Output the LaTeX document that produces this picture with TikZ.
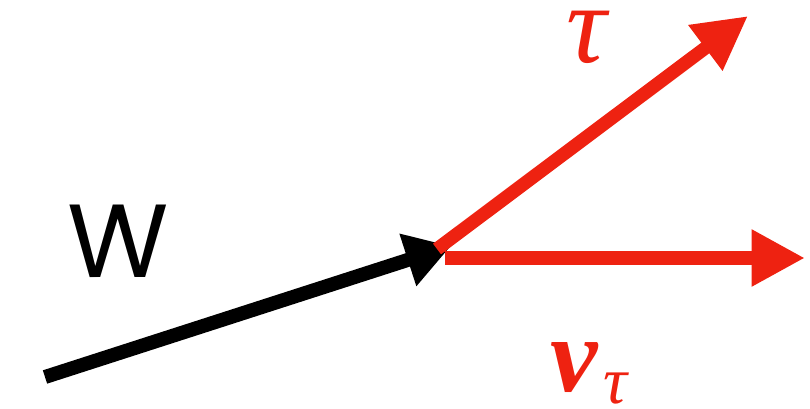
\documentclass[tikz,border=0pt]{standalone}
\usepackage{fontspec}
\newfontfamily\wfont{Poppins}
\newfontfamily\gfont{Liberation Serif}
\usetikzlibrary{arrows.meta}
\definecolor{arred}{RGB}{238,34,17}
\begin{document}
\begin{tikzpicture}[x=0.75pt,y=-0.75pt,
  blackarrow/.style={draw=black,line width=10.5pt,-{Triangle[length=34pt,width=39pt]}},
  redarrow/.style={draw=arred,line width=10pt,-{Triangle[length=40pt,width=40pt]}},
  lbl/.style={inner sep=0pt,outer sep=0pt,text depth=0pt}]
\useasboundingbox (0,0) rectangle (810,409);
\coordinate (wstart) at (45,377);
\coordinate (wend) at (451,246);
\coordinate (tstart) at (437,249);
\coordinate (tend) at (748,16);
\coordinate (nstart) at (445,258);
\coordinate (nend) at (805,258);
\draw[blackarrow] (wstart) -- (wend);
\draw[redarrow] (tstart) -- (tend);
\draw[redarrow,line cap=butt] (nstart) -- (nend);
\node[lbl] (W) at (118,241) {\wfont\fontsize{78}{78}\selectfont W};
\node[lbl,text=arred,anchor=base,text height=34pt] (tau) at (587,63) {\gfont\itshape\fontsize{84}{84}\selectfont τ};
\node[lbl,text=arred,anchor=base west,text height=36pt] (nu) at (550,392) {\gfont\bfseries\itshape\fontsize{80}{80}\selectfont ν};
\node[lbl,text=arred,anchor=base west,text height=20pt] (nusub) at (603,403) {\gfont\itshape\fontsize{50}{50}\selectfont τ};
\end{tikzpicture}
\end{document}
